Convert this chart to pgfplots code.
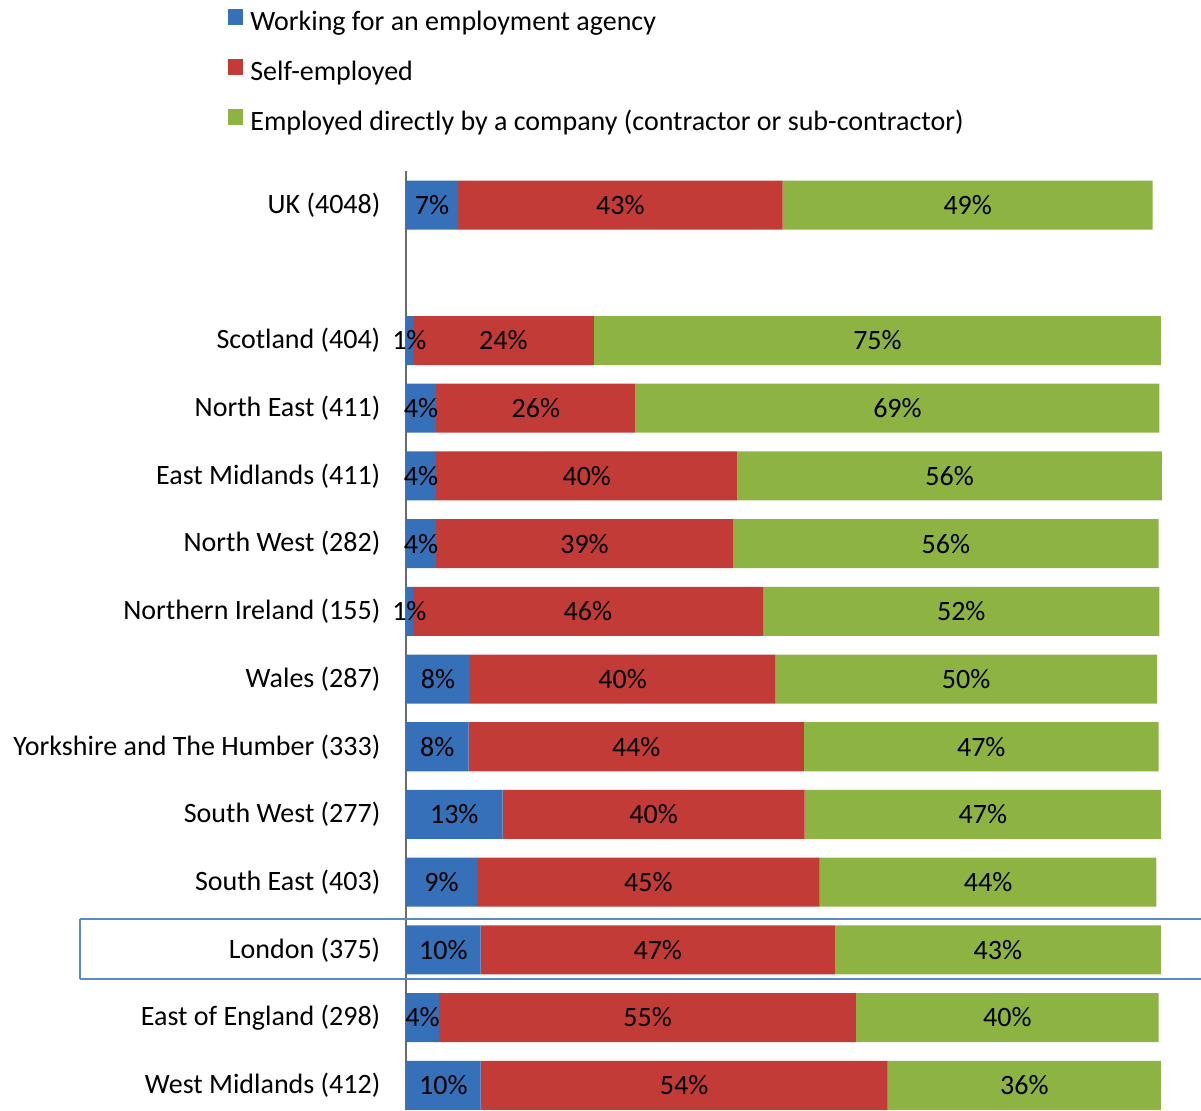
\documentclass[border=0pt]{standalone}
\usepackage{pgfplots}
\pgfplotsset{compat=1.18}
\usepackage{pgfplotstable}
\usepackage{fontspec}
\setmainfont{Carlito}
\definecolor{cblue}{HTML}{3670B8}
\definecolor{cred}{HTML}{C23B37}
\definecolor{cgreen}{HTML}{8DB342}
\definecolor{boxblue}{HTML}{5B8ACB}
\pgfplotstableread{
y a b c la lb lc
13 6.9 43.0 49.0 7 43 49
11 0.9 24.0 75.1 1 24 75
10 4.0 26.4 69.4 4 26 69
9 4.0 39.9 56.2 4 40 56
8 4.0 39.3 56.4 4 39 56
7 0.9 46.4 52.5 1 46 52
6 8.5 40.4 50.6 8 40 50
5 8.3 44.4 47.0 8 44 47
4 12.8 40.0 47.2 13 40 47
3 9.4 45.4 44.6 9 45 44
2 9.9 46.9 43.2 10 47 43
1 4.4 55.2 40.1 4 55 40
0 9.9 53.9 36.2 10 54 36
}\datatable
\begin{document}
\begin{tikzpicture}[font=\fontsize{14}{16}\selectfont]
\begin{axis}[
  x=3.775pt, y=33.85pt,
  xmin=0, xmax=100, ymin=-0.368, ymax=13.5,
  xbar stacked, bar width=24.5pt,
  axis x line=none, axis y line=left,
  axis line style={draw=gray!85!black, line width=1pt, -},
  ytick={0,1,2,3,4,5,6,7,8,9,10,11,13},
  yticklabels={West Midlands (412),East of England (298),London (375),South East (403),South West (277),Yorkshire and The Humber (333),Wales (287),Northern Ireland (155),North West (282),East Midlands (411),North East (411),Scotland (404),UK (4048)},
  ytick style={draw=none},
  yticklabel style={font=\fontsize{14}{16}\selectfont, anchor=east, inner sep=0pt},
  yticklabel shift=10.5pt,
  clip=false,
  point meta=explicit symbolic,
  nodes near coords={\pgfplotspointmeta\%},
  every node near coord/.append style={anchor=center, font=\fontsize{14}{16}\selectfont, text=black},
  legend style={draw=none, at={(-0.2358,1.1735)}, anchor=north west, row sep=11pt, inner sep=0pt,
    nodes={inner sep=0pt, text height=10pt, text depth=3pt, font=\fontsize{14}{16}\selectfont}},
  legend cell align=left,
  legend image code/.code={\path[#1, draw=none] (0pt,-0.5pt) rectangle (7.5pt,7.5pt);},
  /tikz/every odd column/.style={column sep=3.5pt},
]
\addplot[draw=none, fill=cblue] table[x=a, y=y, meta=la] {\datatable};
\addplot[draw=none, fill=cred] table[x=b, y=y, meta=lb] {\datatable};
\addplot[draw=none, fill=cgreen] table[x=c, y=y, meta=lc] {\datatable};
\legend{Working for an employment agency, Self-employed, Employed directly by a company (contractor or sub-contractor)}
\draw[boxblue, line width=1pt] (axis cs:-43.18,1.573) -- (axis cs:105.3,1.573);
\draw[boxblue, line width=1pt] (axis cs:-43.18,2.457) -- (axis cs:105.3,2.457);
\draw[boxblue, line width=1pt] (axis cs:-43.18,1.573) -- (axis cs:-43.18,2.457);
\coordinate (bl) at (axis cs:-53.77,-0.368);
\coordinate (tr) at (axis cs:105.3,16.03);
\end{axis}
\pgfresetboundingbox
\path[use as bounding box] (bl) rectangle (tr);
\end{tikzpicture}
\end{document}
